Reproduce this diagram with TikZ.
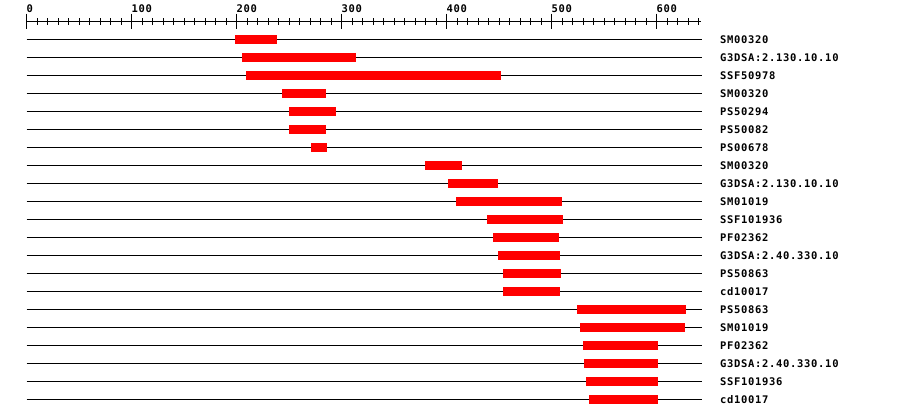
\documentclass[tikz,border=0pt]{standalone}
\usepackage{fontspec}
\newfontfamily\lblfont[LetterSpace=6.5]{DejaVu Sans Mono Bold}
\definecolor{barred}{RGB}{255,0,0}
\tikzset{
  track/.style={draw=black, line width=1pt},
  domainbar/.style={fill=barred},
  tracklabel/.style={anchor=base west, inner sep=0pt, font=\lblfont\fontsize{10.5}{12}\selectfont},
  axislabel/.style={anchor=base west, inner sep=0pt, font=\lblfont\fontsize{10.5}{12}\selectfont},
  majortick/.style={draw=black, line width=1pt},
  minortick/.style={draw=black, line width=0.8pt}
}
\begin{document}
\begin{tikzpicture}[x=1pt,y=-1pt]
\useasboundingbox (0,0) rectangle (900,418);
\fill[white] (0,0) rectangle (900,418);
% axis
\coordinate (axL) at (26.5,21.7);
\coordinate (axR) at (701,21.7);
\draw[majortick] (axL) -- (axR);
\foreach \v in {10,20,...,640}{
  \pgfmathsetmacro{\xx}{26.5+1.05*\v}
  \draw[minortick] (\xx,18.3) -- (\xx,25);
}
\foreach \v/\nm in {0/a0,100/a1,200/a2,300/a3,400/a4,500/a5,600/a6}{
  \pgfmathsetmacro{\xx}{26.5+1.05*\v}
  \draw[majortick] (\xx,13.5) -- (\xx,28.7);
  \node[axislabel] (\nm) at (\xx,12.3) {\v};
}
% tracks
\foreach \i/\s/\e/\t in {
  1/235/277/SM00320,
  2/242/355.7/G3DSA:2.130.10.10,
  3/246/500.7/SSF50978,
  4/282/326/SM00320,
  5/289/336/PS50294,
  6/289/326/PS50082,
  7/311/327/PS00678,
  8/425/462/SM00320,
  9/448/498/G3DSA:2.130.10.10,
  10/456/562/SM01019,
  11/487/563/SSF101936,
  12/493/559/PF02362,
  13/498/560/G3DSA:2.40.330.10,
  14/503/561/PS50863,
  15/503/560/cd10017,
  16/577/685.7/PS50863,
  17/580/685/SM01019,
  18/583/657.7/PF02362,
  19/584/658/G3DSA:2.40.330.10,
  20/586/658/SSF101936,
  21/589/658/cd10017}{
  \pgfmathsetmacro{\yy}{39.3+18*(\i-1)}
  \coordinate (L\i) at (26.5,\yy);
  \coordinate (R\i) at (701.5,\yy);
  \draw[track] (L\i) -- (R\i);
  \fill[domainbar] (\s,\yy-4.5) rectangle (\e,\yy+4.5);
  \node[tracklabel] (t\i) at (720,\yy+4) {\t};
}
\end{tikzpicture}
\end{document}
